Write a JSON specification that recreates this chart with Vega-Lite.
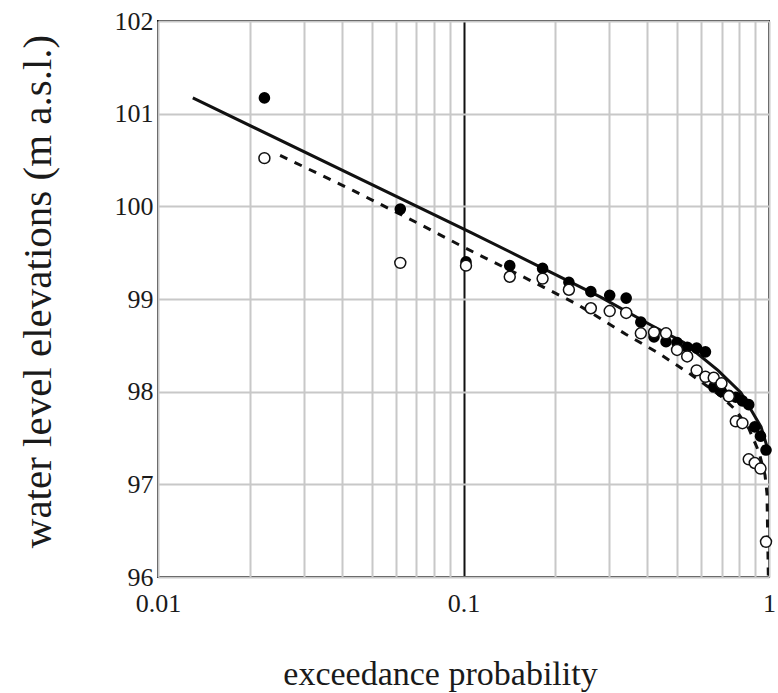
{
  "$schema": "https://vega.github.io/schema/vega-lite/v6.json",
  "autosize": {"type": "none"},
  "padding": {"left": 158, "top": 21, "right": 9, "bottom": 116},
  "width": 611,
  "height": 556,
  "background": "white",
  "config": {
    "view": {"stroke": "#111111", "strokeWidth": 2},
    "font": "Liberation Serif",
    "axis": {"labelFont": "Liberation Serif", "titleFont": "Liberation Serif"}
  },
  "datasets": {
    "observed": [
      {"p": 0.0223, "filled": 101.17, "open": 100.52},
      {"p": 0.0621, "filled": 99.97, "open": 99.39},
      {"p": 0.1019, "filled": 99.40, "open": 99.36},
      {"p": 0.1417, "filled": 99.36, "open": 99.24},
      {"p": 0.1815, "filled": 99.33, "open": 99.22},
      {"p": 0.2213, "filled": 99.18, "open": 99.10},
      {"p": 0.2611, "filled": 99.08, "open": 98.90},
      {"p": 0.3010, "filled": 99.04, "open": 98.87},
      {"p": 0.3408, "filled": 99.01, "open": 98.85},
      {"p": 0.3806, "filled": 98.75, "open": 98.63},
      {"p": 0.4204, "filled": 98.59, "open": 98.64},
      {"p": 0.4602, "filled": 98.54, "open": 98.63},
      {"p": 0.5000, "filled": 98.53, "open": 98.45},
      {"p": 0.5398, "filled": 98.48, "open": 98.38},
      {"p": 0.5796, "filled": 98.47, "open": 98.23},
      {"p": 0.6194, "filled": 98.43, "open": 98.16},
      {"p": 0.6592, "filled": 98.05, "open": 98.15},
      {"p": 0.6990, "filled": 98.00, "open": 98.09},
      {"p": 0.7389, "filled": 97.96, "open": 97.95},
      {"p": 0.7787, "filled": 97.94, "open": 97.68},
      {"p": 0.8185, "filled": 97.90, "open": 97.66},
      {"p": 0.8583, "filled": 97.86, "open": 97.27},
      {"p": 0.8981, "filled": 97.62, "open": 97.23},
      {"p": 0.9379, "filled": 97.52, "open": 97.17},
      {"p": 0.9777, "filled": 97.37, "open": 96.38}
    ],
    "fitSolid": [
      {"p": 0.0130, "v": 101.17},
      {"p": 0.1055, "v": 99.72},
      {"p": 0.1927, "v": 99.29},
      {"p": 0.2813, "v": 99.02},
      {"p": 0.4102, "v": 98.72},
      {"p": 0.5263, "v": 98.53},
      {"p": 0.6808, "v": 98.23},
      {"p": 0.8094, "v": 97.99},
      {"p": 0.9419, "v": 97.62},
      {"p": 0.9930, "v": 97.37}
    ],
    "fitDashed": [
      {"p": 0.0251, "v": 100.55},
      {"p": 0.0436, "v": 100.17},
      {"p": 0.0707, "v": 99.82},
      {"p": 0.1000, "v": 99.56},
      {"p": 0.1633, "v": 99.21},
      {"p": 0.2365, "v": 98.94},
      {"p": 0.3398, "v": 98.62},
      {"p": 0.4325, "v": 98.42},
      {"p": 0.5467, "v": 98.20},
      {"p": 0.6215, "v": 98.07},
      {"p": 0.6966, "v": 97.95},
      {"p": 0.7797, "v": 97.80},
      {"p": 0.8595, "v": 97.60},
      {"p": 0.9268, "v": 97.35},
      {"p": 0.9705, "v": 97.10},
      {"p": 0.9850, "v": 96.90},
      {"p": 0.9950, "v": 96.00}
    ]
  },
  "layer": [
    {
      "data": {"name": "fitSolid"},
      "mark": {"type": "line", "color": "#111111", "strokeWidth": 3, "clip": true},
      "encoding": {
        "x": {
          "field": "p",
          "type": "quantitative",
          "scale": {"type": "log", "domain": [0.01, 1], "nice": false},
          "axis": {
            "values": [0.01, 0.02, 0.03, 0.04, 0.05, 0.06, 0.07, 0.08, 0.09, 0.1, 0.2, 0.3, 0.4, 0.5, 0.6, 0.7, 0.8, 0.9, 1],
            "labelExpr": "datum.value == 0.01 ? '0.01' : datum.value == 0.1 ? '0.1' : datum.value == 1 ? '1' : ''",
            "labelOverlap": false,
            "labelBound": false,
            "labelFlush": false,
            "labelFont": "Liberation Serif",
            "labelFontSize": 26,
            "labelColor": "#1a1a1a",
            "labelPadding": 13,
            "labelDx": 4,
            "ticks": false,
            "domain": false,
            "grid": true,
            "gridColor": {"condition": {"test": "datum.value == 0.1", "value": "#111111"}, "value": "#c8c8c8"},
            "gridWidth": 2,
            "title": "exceedance probability",
            "titleFont": "Liberation Serif",
            "titleFontSize": 34,
            "titleFontWeight": "normal",
            "titleColor": "#1a1a1a",
            "titleX": 282,
            "titleY": 97,
            "titleAlign": "center",
            "titleBaseline": "middle"
          }
        },
        "y": {
          "field": "v",
          "type": "quantitative",
          "scale": {"domain": [96, 102], "nice": false, "zero": false},
          "axis": {
            "values": [96, 97, 98, 99, 100, 101, 102],
            "labelExpr": "format(datum.value, 'd')",
            "labelFont": "Liberation Serif",
            "labelFontSize": 26,
            "labelColor": "#1a1a1a",
            "labelPadding": 5,
            "labelOverlap": false,
            "labelBound": false,
            "labelFlush": false,
            "ticks": false,
            "domain": false,
            "grid": true,
            "gridColor": "#c8c8c8",
            "gridWidth": 2,
            "title": "water level elevations (m a.s.l.)",
            "titleFont": "Liberation Serif",
            "titleFontSize": 41,
            "titleFontWeight": "normal",
            "titleColor": "#1a1a1a",
            "titleAngle": -90,
            "titleX": -120,
            "titleY": 270,
            "titleAlign": "center",
            "titleBaseline": "middle"
          }
        }
      }
    },
    {
      "data": {"name": "fitDashed"},
      "mark": {"type": "line", "color": "#111111", "strokeWidth": 3, "strokeDash": [8, 8], "clip": true},
      "encoding": {
        "x": {"field": "p", "type": "quantitative"},
        "y": {"field": "v", "type": "quantitative"}
      }
    },
    {
      "data": {"name": "observed"},
      "mark": {"type": "point", "filled": true, "shape": "circle", "size": 135, "color": "#000000", "opacity": 1},
      "encoding": {
        "x": {"field": "p", "type": "quantitative"},
        "y": {"field": "filled", "type": "quantitative"}
      }
    },
    {
      "data": {"name": "observed"},
      "mark": {"type": "point", "shape": "circle", "size": 120, "fill": "#ffffff", "stroke": "#111111", "strokeWidth": 1.5, "opacity": 1, "fillOpacity": 1},
      "encoding": {
        "x": {"field": "p", "type": "quantitative"},
        "y": {"field": "open", "type": "quantitative"}
      }
    }
  ]
}
